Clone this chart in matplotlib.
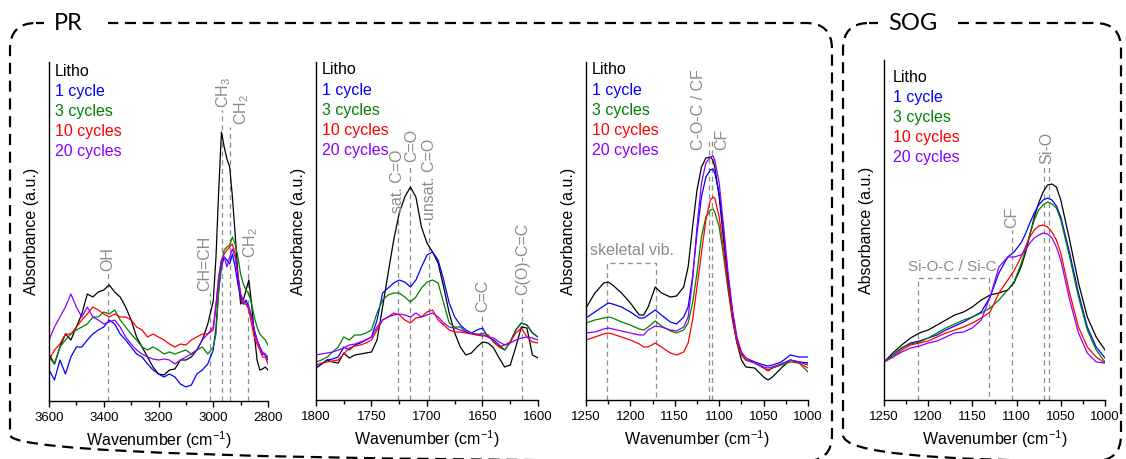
import matplotlib
matplotlib.use("Agg")
import matplotlib.pyplot as plt
from matplotlib.patches import FancyBboxPatch, Rectangle
from matplotlib.ticker import MultipleLocator

plt.rcParams['font.family'] = ['Liberation Sans', 'DejaVu Sans']
plt.rcParams['mathtext.fontset'] = 'custom'
plt.rcParams['mathtext.rm'] = 'Liberation Sans'
plt.rcParams['mathtext.default'] = 'regular'

# ---- data (absorbance in arbitrary units) ----
series_names = ['Litho', '1 cycle', '3 cycles', '10 cycles', '20 cycles']
series_colors = ['black', '#0000ff', '#008000', '#ff0000', '#8a00ff']

# PR, 3600-2800 cm-1
wn_pr_ch = [3600, 3580, 3560, 3540, 3520, 3500, 3480, 3460, 3440, 3420, 3400,
            3380, 3360, 3340, 3320, 3300, 3280, 3260, 3240, 3220, 3200, 3180,
            3160, 3140, 3120, 3100, 3080, 3060, 3040, 3020, 3000, 2990, 2980,
            2970, 2960, 2950, 2940, 2930, 2920, 2910, 2900, 2890, 2880, 2870,
            2860, 2850, 2840, 2830, 2820, 2810, 2800]
pr_ch_litho = [47, 37, 54, 67, 61, 74, 87, 107, 104, 109, 111, 116, 109, 104, 94,
               81, 64, 54, 44, 34, 27, 26, 31, 32, 41, 41, 44, 51, 61, 77, 100,
               144, 211, 269, 254, 242, 234, 204, 167, 127, 97, 101, 111, 121,
               97, 67, 41, 31, 32, 34, 31]
pr_ch_1 = [31, 21, 41, 27, 44, 54, 54, 61, 67, 71, 74, 81, 77, 67, 61, 54, 47,
           44, 37, 31, 27, 24, 27, 24, 17, 14, 16, 27, 31, 37, 51, 74, 111, 134,
           144, 141, 137, 147, 134, 117, 104, 97, 101, 94, 84, 71, 61, 54, 47,
           46, 41]
pr_ch_3 = [44, 37, 54, 61, 67, 71, 74, 77, 84, 84, 89, 87, 91, 81, 74, 67, 61,
           54, 51, 54, 51, 47, 49, 47, 49, 51, 47, 51, 54, 47, 54, 67, 111, 137,
           151, 154, 156, 164, 157, 144, 127, 117, 111, 107, 97, 84, 74, 67, 64,
           61, 56]
pr_ch_10 = [41, 51, 57, 67, 67, 74, 81, 87, 94, 91, 87, 84, 87, 84, 84, 81, 74,
            71, 64, 67, 64, 61, 57, 54, 57, 56, 61, 64, 67, 67, 71, 94, 124, 141,
            147, 151, 154, 157, 147, 127, 107, 97, 97, 91, 77, 64, 57, 51, 44,
            44, 37]
pr_ch_20 = [61, 74, 84, 94, 107, 94, 84, 94, 84, 81, 77, 79, 81, 74, 64, 57, 51,
            47, 44, 42, 41, 42, 41, 37, 41, 44, 47, 51, 61, 67, 74, 97, 124, 141,
            144, 134, 144, 152, 144, 124, 107, 101, 97, 94, 84, 71, 61, 54, 49,
            47, 44]

# PR, 1800-1600 cm-1
wn_pr_co = [1800, 1795, 1790, 1785, 1780, 1775, 1770, 1765, 1760, 1755, 1750,
            1745, 1740, 1735, 1730, 1725, 1720, 1715, 1710, 1705, 1700, 1695,
            1690, 1685, 1680, 1675, 1670, 1665, 1660, 1655, 1650, 1645, 1640,
            1635, 1630, 1625, 1620, 1615, 1610, 1605, 1600]
pr_co_litho = [32, 36, 40, 38, 37, 47, 42, 45, 46, 47, 48, 60, 93, 127, 160, 187,
               203, 213, 203, 173, 157, 148, 137, 113, 87, 67, 53, 45, 47, 53,
               58, 57, 52, 42, 33, 35, 53, 73, 72, 45, 42]
pr_co_1 = [32, 36, 40, 41, 43, 53, 50, 55, 57, 60, 63, 80, 107, 112, 117, 120,
           118, 113, 120, 133, 145, 148, 140, 120, 97, 83, 75, 70, 67, 70, 72,
           63, 60, 55, 50, 58, 70, 77, 75, 67, 63]
pr_co_3 = [38, 40, 43, 48, 53, 63, 60, 65, 65, 67, 70, 87, 100, 105, 107, 107,
           103, 98, 103, 112, 118, 120, 117, 97, 77, 73, 73, 68, 67, 65, 67, 65,
           58, 53, 50, 58, 70, 77, 75, 67, 63]
pr_co_10 = [35, 37, 38, 39, 40, 46, 52, 54, 55, 57, 60, 70, 80, 83, 87, 85, 80,
            77, 82, 83, 88, 90, 80, 75, 70, 68, 68, 67, 66, 65, 64, 65, 58, 53,
            55, 58, 67, 72, 63, 58, 57]
pr_co_20 = [45, 46, 47, 48, 50, 52, 55, 56, 58, 60, 63, 73, 80, 83, 85, 86, 85,
            83, 87, 83, 85, 87, 83, 77, 73, 72, 70, 68, 67, 66, 65, 63, 62, 58,
            55, 57, 60, 62, 63, 62, 60]

# PR, 1250-1000 cm-1
wn_pr_cf = [1250, 1240, 1230, 1225, 1220, 1210, 1200, 1190, 1185, 1180, 1172,
            1165, 1155, 1148, 1140, 1135, 1130, 1125, 1120, 1115, 1110, 1107,
            1105, 1100, 1095, 1090, 1085, 1080, 1075, 1070, 1060, 1050, 1045,
            1040, 1030, 1020, 1010, 1000]
pr_cf_litho = [92, 107, 117, 118, 115, 107, 97, 85, 85, 93, 113, 107, 103, 104,
               113, 133, 173, 210, 233, 242, 243, 240, 233, 203, 160, 117, 83,
               57, 40, 33, 32, 23, 20, 23, 32, 40, 38, 37]
pr_cf_1 = [82, 88, 94, 97, 96, 93, 88, 82, 82, 85, 90, 85, 78, 76, 83, 93, 123,
           167, 203, 223, 230, 231, 227, 207, 167, 123, 87, 60, 47, 42, 38, 35,
           34, 35, 38, 45, 43, 43]
pr_cf_3 = [77, 80, 82, 83, 82, 78, 75, 71, 70, 73, 79, 74, 69, 67, 70, 77, 97,
           127, 163, 183, 190, 191, 188, 173, 143, 110, 80, 57, 45, 40, 37, 32,
           30, 32, 35, 38, 37, 28]
pr_cf_10 = [60, 63, 66, 67, 66, 63, 60, 56, 53, 53, 57, 53, 47, 45, 48, 57, 80,
            113, 147, 180, 200, 203, 202, 183, 150, 113, 80, 58, 45, 40, 37, 32,
            29, 32, 36, 40, 37, 32]
pr_cf_20 = [67, 68, 71, 72, 71, 69, 67, 65, 65, 70, 74, 73, 70, 69, 73, 83, 120,
            173, 217, 237, 243, 244, 240, 217, 173, 127, 90, 63, 48, 42, 37, 33,
            32, 33, 36, 40, 38, 35]

# SOG, 1250-1000 cm-1
wn_sog = [1250, 1240, 1230, 1220, 1210, 1200, 1190, 1180, 1170, 1160, 1150,
          1140, 1130, 1120, 1110, 1103, 1095, 1090, 1085, 1080, 1075, 1070,
          1065, 1060, 1055, 1050, 1040, 1030, 1020, 1010, 1000]
sog_litho = [38, 47, 55, 62, 67, 70, 75, 80, 85, 88, 93, 100, 105, 107, 110, 117,
             133, 147, 165, 183, 197, 208, 215, 216, 213, 200, 160, 117, 83, 63,
             50]
sog_1 = [38, 45, 52, 57, 59, 62, 65, 70, 74, 78, 83, 88, 103, 127, 143, 148,
         157, 166, 177, 187, 195, 200, 202, 200, 194, 183, 147, 107, 73, 53, 42]
sog_3 = [38, 45, 52, 56, 58, 62, 67, 72, 76, 80, 83, 87, 92, 100, 110, 118, 136,
         150, 166, 180, 190, 195, 198, 196, 192, 180, 143, 103, 70, 50, 38]
sog_10 = [38, 43, 50, 55, 57, 59, 63, 67, 70, 73, 77, 82, 88, 107, 120, 129, 143,
          153, 163, 170, 174, 175, 173, 168, 160, 147, 107, 73, 53, 43, 37]
sog_20 = [38, 43, 48, 52, 54, 57, 59, 63, 67, 68, 72, 80, 103, 133, 143, 143,
          145, 150, 157, 162, 165, 167, 166, 162, 153, 140, 100, 67, 47, 38, 37]

# band assignments: (line position, label, top of marker line, label position)
bands_ch = [(3385, 'OH', 128, 3385), (3012, 'CH=CH', 108, 3032),
            (2969, 'CH$_3$', 291, 2963), (2939, 'CH$_2$', 274, 2897),
            (2874, 'CH$_2$', 141, 2862)]
bands_co = [(1726, 'sat. C=O', 185, 1727), (1715, 'C=O', 236, 1714),
            (1698, 'unsat. C=O', 178, 1698), (1650, 'C=C', 86, 1650),
            (1614, 'C(O)-C=C', 103, 1614)]

W, H = 1126, 459
GREY = '#8c8c8c'


def make_axes(fig, left, right, top, bottom):
    ax = fig.add_axes([left / W, 1 - bottom / H, (right - left) / W, (bottom - top) / H])
    ax.set_facecolor('none')
    ax.set_ylim(0, bottom - top)
    ax.spines['top'].set_visible(False)
    ax.spines['right'].set_visible(False)
    ax.spines['left'].set_linewidth(1.0)
    ax.spines['bottom'].set_linewidth(1.0)
    ax.set_yticks([])
    ax.tick_params(axis='x', which='major', direction='out', length=4, width=1,
                   labelsize=9.5, pad=4)
    ax.tick_params(axis='x', which='minor', direction='out', length=3, width=1)
    ax.set_xlabel('Wavenumber (cm$^{-1}$)', fontsize=11.5, labelpad=4)
    ax.set_ylabel('Absorbance (a.u.)', fontsize=11.5, labelpad=7)
    return ax


def plot_series(ax, wn, values):
    for vals, c in zip(values, series_colors):
        ax.plot(wn, vals, color=c, lw=0.9)


def legend_text(ax, dx, dy):
    w = ax.bbox.width
    h = ax.bbox.height
    for i, (name, c) in enumerate(zip(series_names, series_colors)):
        ax.text(dx / w, 1 - (dy + 20 * i) / h, name, color=c, fontsize=11.5,
                transform=ax.transAxes, ha='left', va='center')


def band_lines(ax, bands):
    for pos, label, top, tx in bands:
        ax.plot([pos, pos], [0, top], color=GREY, lw=0.9, ls=(0, (4, 3)))
        ax.text(tx, top + 2, label, rotation=90, color=GREY, fontsize=11.5,
                ha='center', va='bottom')


fig = plt.figure(figsize=(W / 100, H / 100), dpi=100)

# overlay for the dashed frames
bg = fig.add_axes([0, 0, 1, 1], zorder=-1)
bg.set_xlim(0, W)
bg.set_ylim(H, 0)
bg.axis('off')
for x0, x1 in [(10, 832), (843, 1121)]:
    bg.add_patch(FancyBboxPatch((x0, 23), x1 - x0, 438,
                                boxstyle='round,pad=0,rounding_size=26',
                                facecolor='none', edgecolor='black', lw=1.6,
                                ls=(0, (5, 3))))
bg.add_patch(Rectangle((44, 12), 64, 24, facecolor='white', edgecolor='none', zorder=3))
bg.add_patch(Rectangle((878, 12), 80, 24, facecolor='white', edgecolor='none', zorder=3))
bg.text(68, 24, 'PR', fontsize=17, family='Lato', ha='center', va='center', zorder=4)
bg.text(913, 24, 'SOG', fontsize=17, family='Lato', ha='center', va='center', zorder=4)

# panel 1: C-H / O-H region
ax1 = make_axes(fig, 49, 268, 62, 401)
ax1.set_xlim(3600, 2800)
ax1.xaxis.set_major_locator(MultipleLocator(200))
ax1.xaxis.set_minor_locator(MultipleLocator(100))
band_lines(ax1, bands_ch)
plot_series(ax1, wn_pr_ch, [pr_ch_litho, pr_ch_1, pr_ch_3, pr_ch_10, pr_ch_20])
legend_text(ax1, 6, 10)

# panel 2: carbonyl region
ax2 = make_axes(fig, 316, 538, 62, 400)
ax2.set_xlim(1800, 1600)
ax2.xaxis.set_major_locator(MultipleLocator(50))
ax2.xaxis.set_minor_locator(MultipleLocator(25))
band_lines(ax2, bands_co)
plot_series(ax2, wn_pr_co, [pr_co_litho, pr_co_1, pr_co_3, pr_co_10, pr_co_20])
legend_text(ax2, 6, 8)

# panel 3: C-O-C / CF region
ax3 = make_axes(fig, 586, 808, 62, 400)
ax3.set_xlim(1250, 1000)
ax3.xaxis.set_major_locator(MultipleLocator(50))
ax3.xaxis.set_minor_locator(MultipleLocator(25))
ax3.plot([1226, 1226, 1171, 1171], [0, 137, 137, 0], color=GREY, lw=0.9, ls=(0, (4, 3)))
ax3.text(1198.5, 142, 'skeletal vib.', color=GREY, fontsize=11.5, ha='center', va='bottom')
for pos in (1111, 1108):
    ax3.plot([pos, pos], [0, 262], color=GREY, lw=0.9, ls=(0, (4, 3)))
ax3.text(1123, 250, 'C-O-C / CF', rotation=90, color=GREY, fontsize=11.5,
         ha='center', va='bottom')
ax3.text(1097, 250, 'CF', rotation=90, color=GREY, fontsize=11.5,
         ha='center', va='bottom')
plot_series(ax3, wn_pr_cf, [pr_cf_litho, pr_cf_1, pr_cf_3, pr_cf_10, pr_cf_20])
legend_text(ax3, 6, 8)

# panel 4: SOG
ax4 = make_axes(fig, 884, 1105, 60, 400)
ax4.set_xlim(1250, 1000)
ax4.xaxis.set_major_locator(MultipleLocator(50))
ax4.xaxis.set_minor_locator(MultipleLocator(25))
ax4.plot([1211, 1211, 1131, 1131], [0, 122, 122, 0], color=GREY, lw=0.9, ls=(0, (4, 3)))
ax4.text(1173, 126, 'Si-O-C / Si-C', color=GREY, fontsize=11, ha='center', va='bottom')
ax4.plot([1105, 1105], [0, 170], color=GREY, lw=0.9, ls=(0, (4, 3)))
ax4.text(1105, 172, 'CF', rotation=90, color=GREY, fontsize=11.5, ha='center', va='bottom')
for pos in (1069, 1063):
    ax4.plot([pos, pos], [0, 235], color=GREY, lw=0.9, ls=(0, (4, 3)))
ax4.text(1066, 236, 'Si-O', rotation=90, color=GREY, fontsize=11.5, ha='center', va='bottom')
plot_series(ax4, wn_sog, [sog_litho, sog_1, sog_3, sog_10, sog_20])
legend_text(ax4, 9, 17)

fig.savefig('out.png', dpi=100)
